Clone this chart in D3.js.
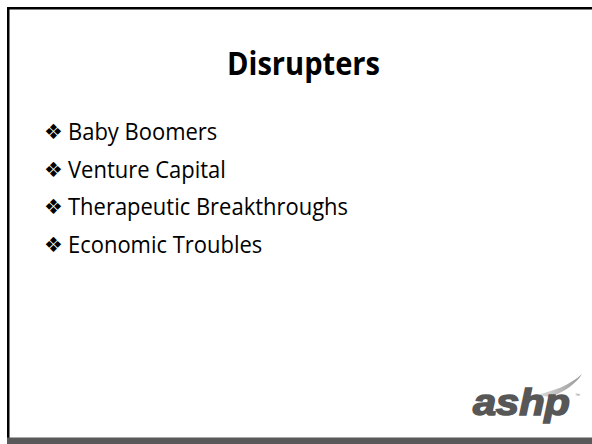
<!DOCTYPE html>
<html>
<head>
<meta charset="utf-8">
<script src="https://cdn.jsdelivr.net/npm/d3@7"></script>
<style>
html,body{margin:0;padding:0;background:#fff;}
svg{display:block;}
</style>
</head>
<body>
<svg id="slide" width="592" height="444"></svg>
<script>
const title = "Disrupters";
const bullets = ["Baby Boomers", "Venture Capital", "Therapeutic Breakthroughs", "Economic Troubles"];
const logoText = "ashp";

const W = 592, H = 444;
const svg = d3.select("#slide");

// frame
svg.append("rect").attr("x",0).attr("y",0).attr("width",W).attr("height",H).attr("fill","#fff");
svg.append("rect").attr("x",7).attr("y",7).attr("width",W).attr("height",2.5).attr("fill","#000");
svg.append("rect").attr("x",7).attr("y",7).attr("width",2.5).attr("height",H).attr("fill","#000");
svg.append("rect").attr("x",7).attr("y",437.5).attr("width",W).attr("height",H-437.5).attr("fill","#595959");

// title
svg.append("text").attr("x",303.5).attr("y",75)
  .attr("text-anchor","middle")
  .attr("font-family","Open Sans, sans-serif").attr("font-weight","bold")
  .attr("font-size",32).attr("fill","#000")
  .attr("textLength",153).attr("lengthAdjust","spacingAndGlyphs")
  .text(title);

// bullets
const y = d3.scalePoint().domain(bullets).range([140, 253]);
const g = svg.append("g");
bullets.forEach(b => {
  g.append("text").attr("x",44).attr("y",y(b) - 1)
    .attr("font-family","DejaVu Sans").attr("font-size",21).attr("fill","#000")
    .text("\u2756");
  const t = g.append("text").attr("x",68).attr("y",y(b))
    .attr("font-family","Open Sans, sans-serif").attr("font-size",23).attr("fill","#000")
    .text(b);
  const nat = t.node().getComputedTextLength();
  t.attr("textLength", nat * 0.955).attr("lengthAdjust","spacingAndGlyphs");
});

// logo
const lg = svg.append("g");
const grad = svg.append("defs").append("linearGradient").attr("id","sw").attr("x1","0").attr("x2","1").attr("y1","0").attr("y2","0");
grad.append("stop").attr("offset","0").attr("stop-color","#e0e0e0");
grad.append("stop").attr("offset","1").attr("stop-color","#959595");
lg.append("path").attr("d","M536,395 C554,391 570,385 582,374 C576,384 564,392 550,397 Z").attr("fill","url(#sw)");
lg.append("text").attr("x",473).attr("y",415)
  .attr("font-family","Liberation Sans, Arial, sans-serif").attr("font-weight","bold").attr("font-style","italic")
  .attr("font-size",37).attr("fill","#575757").attr("stroke","#575757").attr("stroke-width",1.6)
  .attr("textLength",97).attr("lengthAdjust","spacingAndGlyphs")
  .text(logoText);
lg.append("text").attr("x",575).attr("y",397).attr("font-family","Liberation Sans").attr("font-size",5).attr("fill","#777").text("\u2122");
</script>
</body>
</html>
